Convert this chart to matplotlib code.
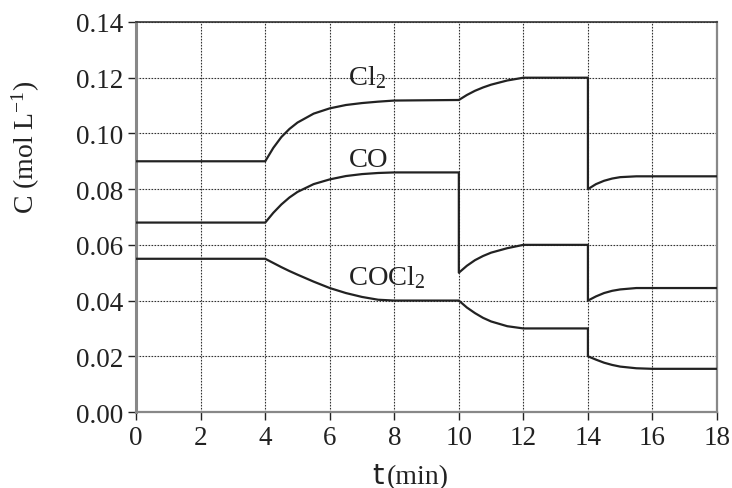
import matplotlib
matplotlib.use('Agg')
from matplotlib import pyplot as plt
import numpy as np

plt.rcParams['font.family'] = ['Liberation Serif', 'DejaVu Serif']
plt.rcParams['mathtext.fontset'] = 'custom'
plt.rcParams['mathtext.rm'] = 'Liberation Serif'
plt.rcParams['mathtext.it'] = 'Liberation Serif:italic'

# time points (min), repeated times are the step changes
t = [0, 4, 4.25, 4.5, 4.75, 5, 5.5, 6, 6.5, 7, 7.5, 8, 10, 10, 10.25, 10.5, 10.75,
     11, 11.5, 12, 14, 14, 14.25, 14.5, 14.75, 15, 15.5, 16, 18]

cl2 = [0.090, 0.090, 0.0948, 0.0987, 0.1016, 0.1039, 0.1071, 0.1090, 0.1102, 0.1109,
       0.1114, 0.1118, 0.1120, 0.1120, 0.1138, 0.1153, 0.1165, 0.1175, 0.1190, 0.1200,
       0.1200, 0.0800, 0.0818, 0.0830, 0.0838, 0.0843, 0.0846, 0.0846, 0.0846]
co = [0.068, 0.068, 0.0715, 0.0745, 0.0770, 0.0790, 0.0818, 0.0835, 0.0847, 0.0854,
      0.0858, 0.0860, 0.0860, 0.0500, 0.0525, 0.0545, 0.0560, 0.0572, 0.0588, 0.0600,
      0.0600, 0.0400, 0.0415, 0.0427, 0.0435, 0.0440, 0.0445, 0.0445, 0.0445]
cocl2 = [0.055, 0.055, 0.0535, 0.0520, 0.0506, 0.0493, 0.0468, 0.0445, 0.0427, 0.0413,
         0.0403, 0.0400, 0.0400, 0.0400, 0.0375, 0.0355, 0.0338, 0.0325, 0.0308, 0.0300,
         0.0300, 0.0200, 0.0188, 0.0177, 0.0169, 0.0163, 0.0157, 0.0155, 0.0155]

labels = [r'Cl$_\mathrm{2}$', 'CO', r'COCl$_\mathrm{2}$']
label_pos = [(6.57, 0.1177), (6.6, 0.0883), (6.57, 0.0459)]

xticks = np.arange(0, 19, 2)
yticks = np.arange(0, 0.141, 0.02)

fig = plt.figure(figsize=(7.32, 4.89), dpi=100)
ax = fig.add_axes([0.186, 0.1554, 0.7935, 0.7976])

for y in (cl2, co, cocl2):
    ax.plot(t, y, color='#222222', lw=1.6, zorder=3)

for lab, (x, y) in zip(labels, label_pos):
    ax.text(x, y, lab, fontsize=20.5, color='#222222', ha='left', va='baseline')

ax.set_xlim(0, 18)
ax.set_ylim(0, 0.14)
ax.set_xticks(xticks)
ax.set_yticks(yticks)
ax.set_yticklabels(['%.2f' % v for v in yticks])
ax.tick_params(direction='out', length=6, width=1, labelsize=19.5, colors='#222222')
ax.tick_params(axis='y', pad=3)
ax.tick_params(axis='x', pad=3)
ax.grid(True, color='#333333', ls=(0, (1.5, 1.2)), lw=0.8)

for s in ('left', 'right', 'bottom'):
    ax.spines[s].set_color('#888888')
ax.spines['left'].set_linewidth(2.2)
ax.spines['right'].set_linewidth(1.6)
ax.spines['bottom'].set_linewidth(1.6)
ax.spines['top'].set_color('#333333')
ax.spines['top'].set_linewidth(1.2)

ax.text(-0.189, 0.68, r'C (mol L$^{-1}$)', transform=ax.transAxes, rotation=90,
        fontsize=20, ha='center', va='center', color='#222222')
ax.text(0.4255, -0.182, 't', transform=ax.transAxes, family='DejaVu Sans',
        fontsize=21, ha='right', va='baseline', color='#222222')
ax.text(0.431, -0.182, '(min)', transform=ax.transAxes,
        fontsize=20, ha='left', va='baseline', color='#222222')

fig.savefig('out.png', dpi=100)
